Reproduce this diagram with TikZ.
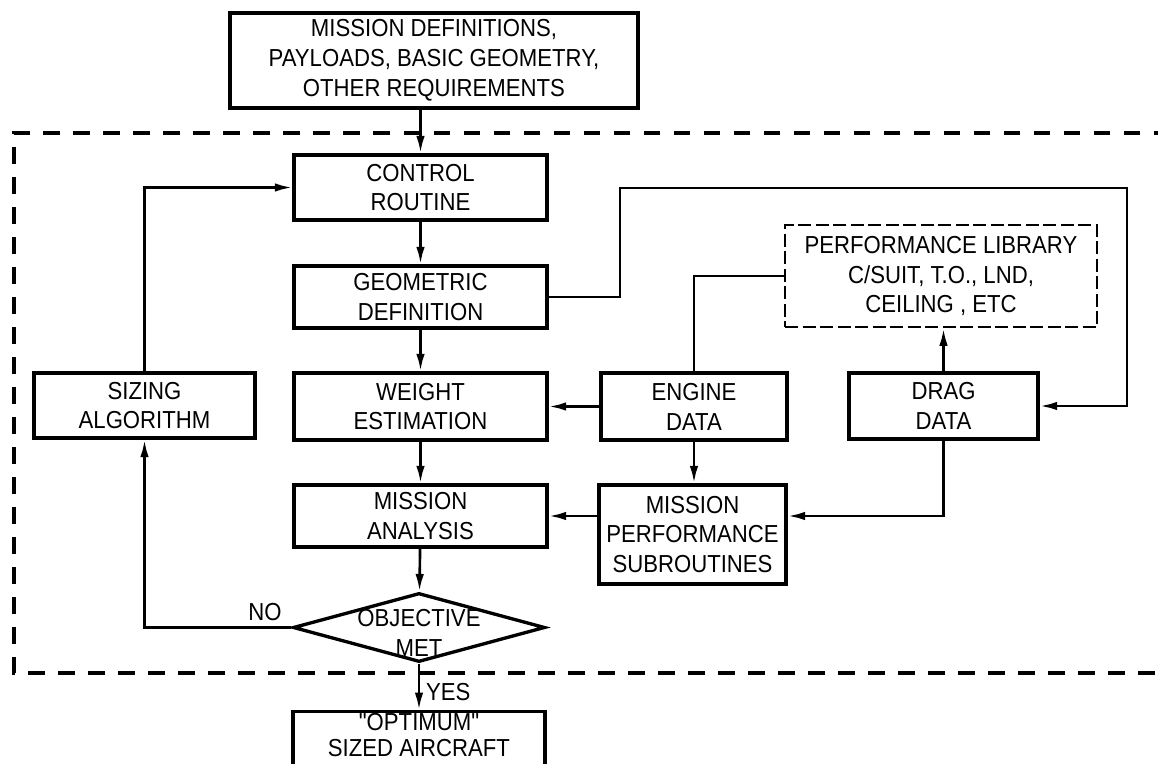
\documentclass[tikz,border=0pt]{standalone}
\usepackage{fontspec}
\newfontfamily\lettering{Liberation Sans}[FakeStretch=0.9]
\usetikzlibrary{arrows.meta,positioning,shapes.geometric}

\begin{document}
\begin{tikzpicture}[
  font=\lettering\fontsize{14}{17}\selectfont,
  blk/.style={draw, line width=1.9pt, minimum width=5.06cm, minimum height=1.3cm, align=center, inner sep=2pt},
  lib/.style={draw, line width=1.5pt, dash pattern=on 0.26cm off 0.09cm, minimum width=6.24cm, minimum height=2.04cm, align=center},
  dec/.style={draw, diamond, line width=1.9pt, minimum width=5.04cm, minimum height=1.38cm, inner sep=0pt},
  frm/.style={line width=2.2pt, dash pattern=on 0.33cm off 0.27cm},
  flow/.style={-{Latex[length=3.5mm,width=1.7mm]}, line width=1.5pt},
  link/.style={line width=1.5pt}
]
\useasboundingbox (0,0) rectangle (23.16,-15.28);
\clip (0,0) rectangle (23.16,-15.28);

\node[blk, minimum width=8.16cm, minimum height=1.9cm] (req) at (8.68,-1.21) {MISSION DEFINITIONS,\\PAYLOADS, BASIC GEOMETRY,\\OTHER REQUIREMENTS};

\node[blk] (ctrl) at (8.41,-3.75) {CONTROL\\ROUTINE};
\node[blk, minimum height=1.24cm] (geom) at (8.41,-5.94) {GEOMETRIC\\DEFINITION};
\node[blk, minimum height=1.34cm] (wt)   at (8.41,-8.13) {WEIGHT\\ESTIMATION};
\node[blk, minimum height=1.24cm] (mana) at (8.41,-10.32) {MISSION\\ANALYSIS};
\node[dec, label={[align=center, yshift=-3pt]center:OBJECTIVE\\MET}] (obj) at (8.38,-12.55) {};
\node[blk, anchor=north, minimum width=5.04cm, text depth=0.5cm, inner ysep=1pt,
      font=\lettering\fontsize{14}{15}\selectfont] (opt) at (8.38,-14.2) {"OPTIMUM"\\SIZED AIRCRAFT};

\node[blk, minimum width=4.42cm] (siz) at (2.89,-8.11) {SIZING\\ALGORITHM};
\node[blk, minimum width=3.72cm, minimum height=1.34cm] (eng)  at (13.88,-8.13) {ENGINE\\DATA};
\node[blk, minimum width=3.78cm, minimum height=1.32cm] (drag) at (18.87,-8.12) {DRAG\\DATA};
\node[lib] (perf) at (18.82,-5.52) {PERFORMANCE LIBRARY\\C/SUIT, T.O., LND,\\CEILING , ETC};
\node[blk, minimum width=3.74cm, minimum height=1.98cm] (mps) at (13.85,-10.69) {MISSION\\PERFORMANCE\\SUBROUTINES};

% sizing loop boundary
\draw[frm] (23.4,-2.66) -- (0.28,-2.66) -- (0.28,-13.46) -- (23.4,-13.46);

\draw[flow] (req.south -| ctrl) -- (ctrl);
\foreach \a/\b in {ctrl/geom, geom/wt, wt/mana, mana/obj, eng/wt}
  \draw[flow] (\a) -- (\b);
\draw[flow] (obj) -- node[right, yshift=-3pt] {YES} (opt);
\draw[flow] (obj.west) -| node[pos=0.09, above] {NO} (siz.south);
\draw[flow] (siz.north) |- (ctrl.west);

\draw[flow] (eng.south) -- (eng.south |- mps.north);
\draw[flow] (mps.west |- mana.east) -- (mana.east);
\draw[link] (eng.north) |- (perf.west);
\draw[flow] (drag.north) -- (drag.north |- perf.south);
\draw[flow] (drag.south) |- (mps.east |- mana.east);

\coordinate (gk) at (12.4,-3.76);
\coordinate (rk) at (22.54,-3.76);
\draw[flow] (geom.east) -| (gk) -- (rk) |- (drag.east);

\end{tikzpicture}
\end{document}
